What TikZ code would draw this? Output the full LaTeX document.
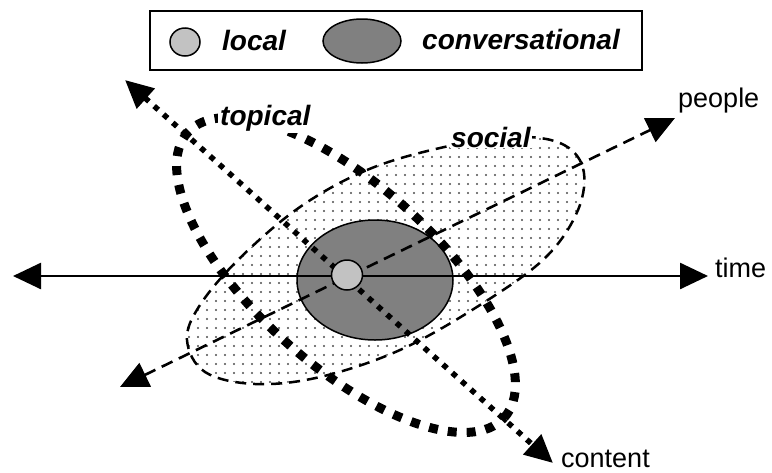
\documentclass[tikz,border=0pt]{standalone}
\usepackage{fontspec}
\setmainfont{Liberation Sans}
\usetikzlibrary{arrows.meta,shapes.geometric,patterns.meta}
\definecolor{convgray}{RGB}{128,128,128}
\definecolor{localgray}{RGB}{194,194,194}

\begin{document}
\begin{tikzpicture}[x=1pt,y=-1pt,
  >={Triangle[length=28pt,width=26pt]},
  axislbl/.style={font=\fontsize{27}{30}\selectfont, inner sep=0pt},
  keylbl/.style={font=\fontsize{28}{32}\selectfont\bfseries\itshape, inner sep=0pt},
  localdot/.style={ellipse, draw, line width=1.5pt, fill=localgray, inner sep=0pt},
  convblob/.style={ellipse, draw, line width=1.5pt, fill=convgray, inner sep=0pt},
  socialblob/.style={draw, line width=2.5pt, dash pattern=on 11pt off 7pt,
    pattern={Dots[distance=9pt,radius=1.2pt]}, pattern color=black!70},
  topicalring/.style={ellipse, draw, line width=9pt, dash pattern=on 9pt off 10pt, inner sep=0pt}]
  \useasboundingbox (0,0) rectangle (772,472);

  % Legend
  \node[draw, line width=2.2pt, minimum width=492pt, minimum height=59pt, anchor=north west] (legend) at (149,10) {};
  \node[localdot, minimum width=30pt, minimum height=28pt] (keylocal) at (185,42) {};
  \node[keylbl, anchor=base west] (keylocallbl) at (222,50) {local};
  \node[convblob, minimum width=78pt, minimum height=44pt] (keyconv) at (362,41) {};
  \node[keylbl, anchor=base west] (keyconvlbl) at (422,49) {conversational};

  % Social region
  \draw[socialblob] plot[smooth cycle, tension=0.6] coordinates {
    (300,207) (367,170) (440,148) (510,137) (560,143) (583,168) (578,210)
    (545,258) (480,305) (400,350) (320,377) (255,384) (205,372) (187,340)
    (200,305) (240,258)};

  % Conversational region
  \node[convblob, minimum width=156pt, minimum height=120pt] (conv) at (375,280) {};

  % Topical ring
  \node[topicalring, minimum width=426pt, minimum height=180pt, rotate=-42] (topical) at (346,275) {};

  % Axes
  \coordinate (timeW) at (13,276);
  \coordinate (timeE) at (708,276);
  \coordinate (peopleSW) at (120,387);
  \coordinate (peopleNE) at (675,118);
  \coordinate (contentNW) at (125,80);
  \coordinate (contentSE) at (553,463);
  \draw[<->, line width=2.6pt] (timeW) -- (timeE);
  \draw[<->, line width=2.6pt, dash pattern=on 12pt off 7pt] (peopleSW) -- (peopleNE);
  \draw[<->, line width=5.5pt, dash pattern=on 5.5pt off 7pt] (contentNW) -- (contentSE);

  % Local spot
  \node[localdot, minimum width=31pt, minimum height=30pt] (local) at (347,275) {};

  % Labels
  \node[keylbl, anchor=base west, fill=white, inner sep=2pt] (topicallbl) at (218,125) {topical};
  \node[keylbl, anchor=base west, fill=white, inner sep=1pt] (sociallbl) at (450,147) {social};
  \node[axislbl, anchor=base west] (timelbl) at (715,277) {time};
  \node[axislbl, anchor=base west] (peoplelbl) at (678,107) {people};
  \node[axislbl, anchor=base west] (contentlbl) at (561,467) {content};
\end{tikzpicture}
\end{document}
